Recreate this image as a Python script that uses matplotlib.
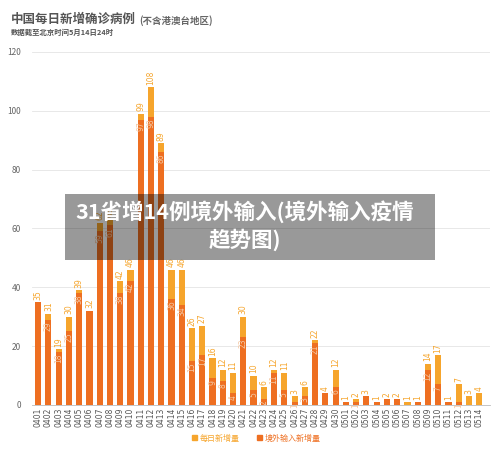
import matplotlib
matplotlib.use("Agg")
import matplotlib.pyplot as plt
from matplotlib.patches import Rectangle

plt.rcParams["font.family"] = ["Noto Sans CJK SC", "DejaVu Sans"]

DATES = ["0401", "0402", "0403", "0404", "0405", "0406", "0407", "0408", "0409", "0410",
         "0411", "0412", "0413", "0414", "0415", "0416", "0417", "0418", "0419", "0420",
         "0421", "0422", "0423", "0424", "0425", "0426", "0427", "0428", "0429", "0430",
         "0501", "0502", "0503", "0504", "0505", "0506", "0507", "0508", "0509", "0510",
         "0511", "0512", "0513", "0514"]
DAILY_NEW = [35, 31, 19, 30, 39, 32, 62, 63, 42, 46,
             99, 108, 89, 46, 46, 26, 27, 16, 12, 11,
             30, 10, 6, 12, 11, 3, 6, 22, 4, 12,
             1, 2, 3, 1, 2, 2, 1, 1, 14, 17,
             1, 7, 3, 4]
IMPORTED = [35, 29, 18, 25, 38, 32, 59, 61, 38, 42,
            97, 98, 86, 36, 34, 15, 17, 9, 8, 4,
            23, 5, 2, 11, 5, 1, 3, 21, 4, 6,
            1, 1, 3, 1, 2, 2, 0, 1, 12, 7,
            1, 1, 0, 0]

LIGHT = "#F6A52C"
DARK = "#EE6F21"

fig = plt.figure(figsize=(5.0, 4.55), dpi=100)
ax = fig.add_axes([0.064, 0.110, 0.916, 0.776])

x = list(range(len(DATES)))
ax.bar(x, DAILY_NEW, width=0.6, color=LIGHT, zorder=2)
ax.bar(x, IMPORTED, width=0.6, color=DARK, zorder=3)

for i, (tot, imp) in enumerate(zip(DAILY_NEW, IMPORTED)):
    ax.text(i, tot + 0.8, str(tot), rotation=90, ha="center", va="bottom",
            fontsize=5.5, color=LIGHT, family="DejaVu Sans", zorder=4)
    if 0 < imp < tot:
        ax.text(i, imp - 0.5, str(imp), rotation=90, ha="center", va="top",
                fontsize=5.5, color="#F4C9A6", family="DejaVu Sans", zorder=4)

ax.set_xlim(-0.6, 44.05)
ax.set_ylim(0, 120)
ax.set_yticks(range(0, 121, 20))
ax.set_xticks(x)
ax.set_xticklabels(DATES, rotation=90, fontsize=5.5, color="#555555", family="DejaVu Sans")
ax.tick_params(axis="y", labelsize=6, colors="#666666", length=0, pad=8)
ax.tick_params(axis="x", length=0, pad=2)
ax.grid(axis="y", color="#e4e4e4", linewidth=0.6, zorder=0)
for s in ["top", "right", "left"]:
    ax.spines[s].set_visible(False)
ax.spines["bottom"].set_color("#bbbbbb")
ax.spines["bottom"].set_linewidth(0.6)

# titles
fig.text(0.022, 0.957, "中国每日新增确诊病例", fontsize=9, fontweight="bold",
         color="#555555", va="center")
fig.text(0.278, 0.955, "(不含港澳台地区)", fontsize=6.8, fontweight="bold",
         color="#666666", va="center")
fig.text(0.022, 0.928, "数据截至北京时间5月14日24时", fontsize=5.3, fontweight="bold",
         color="#555555", va="center")

# legend
fig.patches.append(Rectangle((0.383, 0.032), 0.011, 0.012, transform=fig.transFigure,
                             color=LIGHT, figure=fig))
fig.text(0.400, 0.037, "每日新增量", fontsize=5.8, color=LIGHT, va="center")
fig.patches.append(Rectangle((0.513, 0.032), 0.011, 0.012, transform=fig.transFigure,
                             color=DARK, figure=fig))
fig.text(0.530, 0.037, "境外输入新增量", fontsize=5.8, color=DARK, va="center")

# overlay caption
fig.patches.append(Rectangle((0.13, 0.429), 0.74, 0.145, transform=fig.transFigure,
                             facecolor="black", alpha=0.4, edgecolor="none",
                             figure=fig, zorder=10))
fig.text(0.49, 0.535, "31省增14例境外输入(境外输入疫情", fontsize=15.5, fontweight="bold",
         color="white", ha="center", va="center", zorder=11)
fig.text(0.49, 0.472, "趋势图)", fontsize=15.5, fontweight="bold",
         color="white", ha="center", va="center", zorder=11)

fig.savefig("out.png", dpi=100, facecolor="white")
